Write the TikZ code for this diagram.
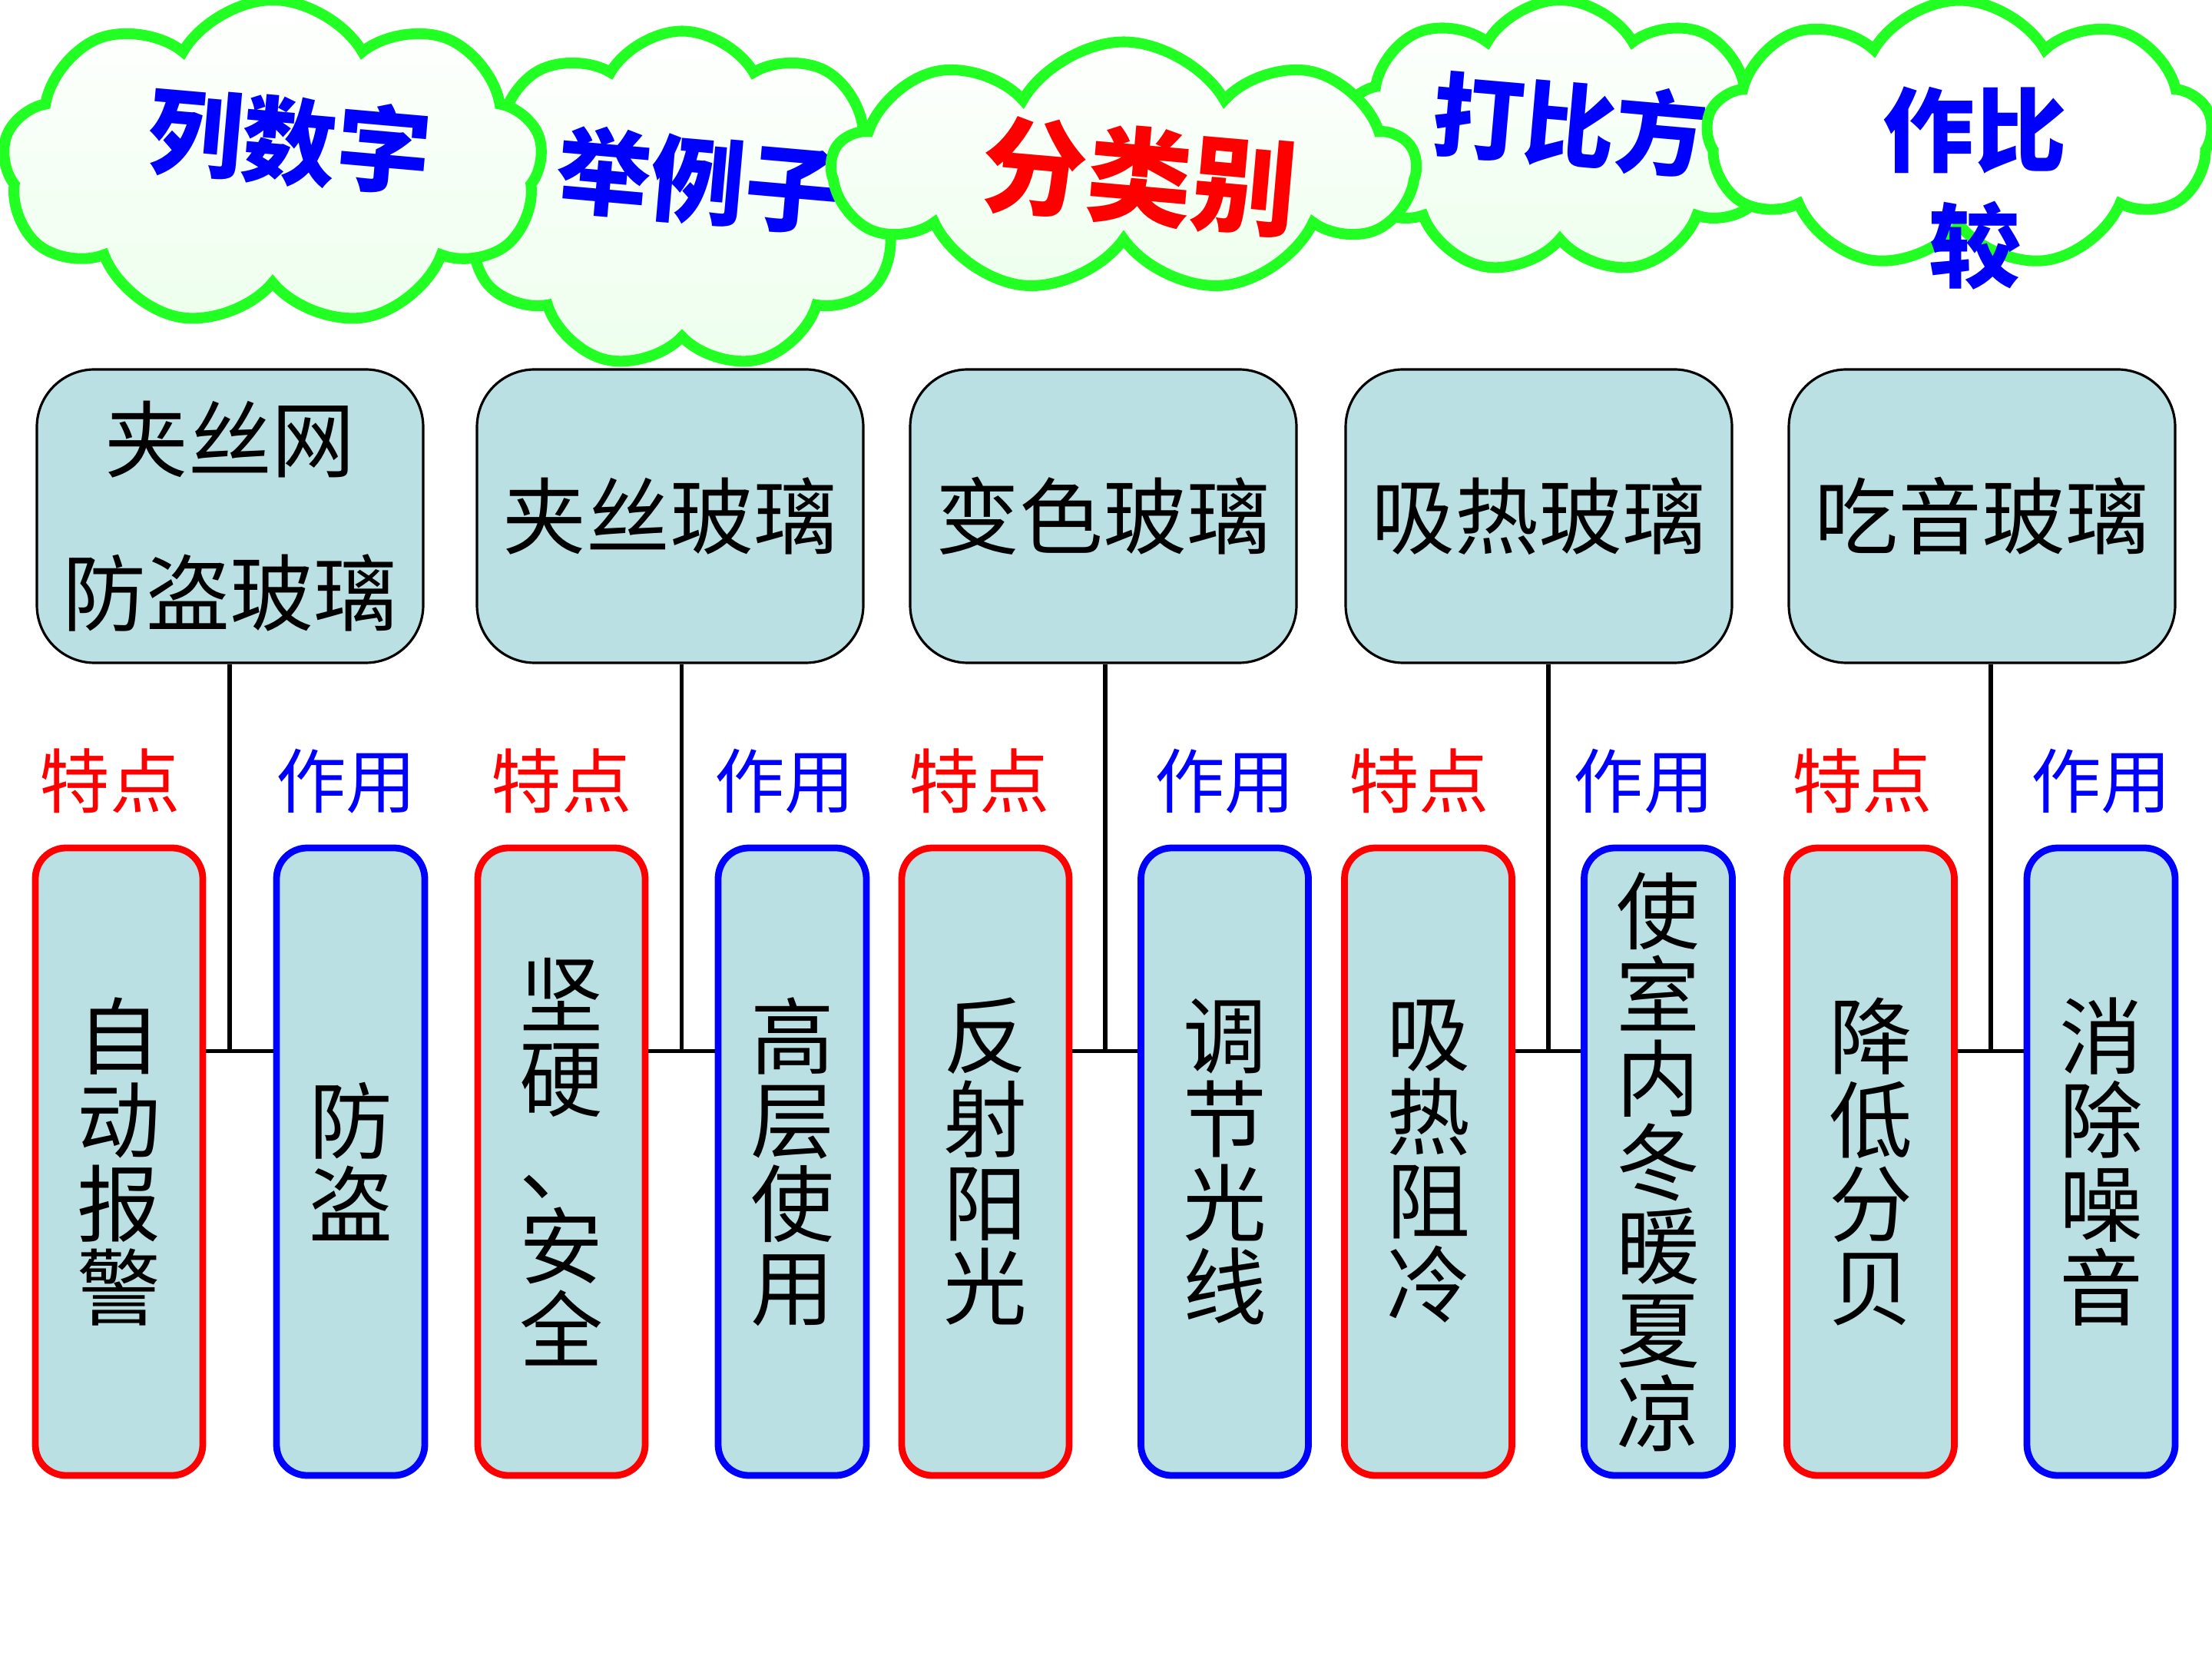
\documentclass[tikz,border=0pt]{standalone}
\usepackage{fontspec}
\setmainfont{Noto Sans CJK SC}
\usepackage{tikz}
\usetikzlibrary{positioning,calc,shapes.symbols}
\definecolor{boxfill}{HTML}{BBE0E3}
\definecolor{cloudgreen}{HTML}{22FF22}
\definecolor{featred}{HTML}{FF0000}
\definecolor{useblue}{HTML}{0000FF}

\begin{document}
\begin{tikzpicture}[
    glass/.style={draw=black,line width=0.9pt,fill=boxfill,rounded corners=0.75cm,
      minimum width=5.03cm,minimum height=3.82cm,align=center,
      font=\fontsize{31}{57}\selectfont},
    featbox/.style={draw=featred,line width=2.5pt,fill=boxfill,rounded corners=0.4cm,
      minimum width=2.18cm,minimum height=8.17cm,inner sep=0pt,align=center,
      font=\fontsize{31}{31}\selectfont},
    usebox/.style={featbox,draw=useblue,minimum width=1.93cm},
    feat/.style={text=featred,inner sep=0pt,font=\fontsize{26}{26}\selectfont},
    usetag/.style={feat,text=useblue},
    puff/.style={cloud,cloud puffs=9,cloud puff arc=120,aspect=1.6,draw=cloudgreen,
      line width=4pt,top color=white,bottom color=green!7,inner sep=0pt},
    word/.style={text=useblue,font=\fontsize{35}{43}\selectfont\bfseries,rotate=-5,align=center},
    wire/.style={line width=1.7pt}
  ]
    \useasboundingbox (0,0) rectangle (28.8,-21.6);

    % clouds, back to front
    \node[puff,minimum width=5.73cm,minimum height=3.58cm] (c4) at (20.31,-1.79) {};
    \node[word,font=\fontsize{34}{40}\selectfont\bfseries] (w4) at (20.44,-1.62) {打比方};
    \node[puff,minimum width=5.82cm,minimum height=4.41cm] (c2) at (8.88,-2.61) {};
    \node[word] (w2) at (9.09,-2.35) {举例子};
    \node[puff,minimum width=7.03cm,minimum height=4.26cm] (c1) at (3.55,-2.13) {};
    \node[word] (w1) at (3.77,-1.84) {列数字};
    \node[puff,minimum width=7.58cm,minimum height=3.27cm] (c3) at (14.63,-2.18) {};
    \node[word,text=featred,font=\fontsize{39}{44}\selectfont\bfseries] (w3) at (14.84,-2.30) {分类别};
    \node[puff,minimum width=6.58cm,minimum height=3.49cm,bottom color=white] (c5) at (25.51,-1.75) {};
    \node[word,rotate=5,font=\fontsize{34}{43}\selectfont\bfseries] (w5) at (25.71,-2.45) {作比\\较};

    % glass kinds
    \node[glass] (t1) at (2.995,-6.72) {夹丝网\\防盗玻璃};
    \node[glass] (t2) at (8.725,-6.72) {夹丝玻璃};
    \node[glass] (t3) at (14.365,-6.72) {变色玻璃};
    \node[glass] (t4) at (20.035,-6.72) {吸热玻璃};
    \node[glass] (t5) at (25.805,-6.72) {吃音玻璃};

    % features and uses
    \node[featbox] (f1) at (1.55,-15.125) {自\\动\\报\\警};
    \node[usebox] (u1) at (4.565,-15.125) {防\\盗};
    \node[featbox] (f2) at (7.31,-15.125) {坚\\硬\\、\\安\\全};
    \node[usebox] (u2) at (10.315,-15.125) {高\\层\\使\\用};
    \node[featbox] (f3) at (12.83,-15.125) {反\\射\\阳\\光};
    \node[featbox,draw=useblue] (u3) at (15.945,-15.125) {调\\节\\光\\线};
    \node[featbox] (f4) at (18.595,-15.125) {吸\\热\\阻\\冷};
    \node[usebox] (u4) at (21.59,-15.125) {使\\室\\内\\冬\\暖\\夏\\凉};
    \node[featbox] (f5) at (24.355,-15.125) {降\\低\\分\\贝};
    \node[usebox] (u5) at (27.355,-15.125) {消\\除\\噪\\音};

    \node[feat,above=0.4 of f1,xshift=-0.12cm] (lf1) {特点};
    \node[usetag,above=0.4 of u1,xshift=-0.06cm] (lu1) {作用};
    \node[feat,above=0.4 of f2] (lf2) {特点};
    \node[usetag,above=0.4 of u2,xshift=-0.1cm] (lu2) {作用};
    \node[feat,above=0.4 of f3,xshift=-0.08cm] (lf3) {特点};
    \node[usetag,above=0.4 of u3] (lu3) {作用};
    \node[feat,above=0.4 of f4,xshift=-0.12cm] (lf4) {特点};
    \node[usetag,above=0.4 of u4,xshift=-0.19cm] (lu4) {作用};
    \node[feat,above=0.4 of f5,xshift=-0.11cm] (lf5) {特点};
    \node[usetag,above=0.4 of u5] (lu5) {作用};

    % junctions
    \coordinate (j1) at ($(f1.east)!0.5!(u1.west)+(-0.13,1.44)$);
    \coordinate (j2) at ($(f2.east)!0.5!(u2.west)+(0,1.44)$);
    \coordinate (j3) at ($(f3.east)!0.5!(u3.west)+(0,1.44)$);
    \coordinate (j4) at ($(f4.east)!0.5!(u4.west)+(0,1.44)$);
    \coordinate (j5) at ($(f5.east)!0.5!(u5.west)+(0,1.44)$);

    \draw[wire] (t1.south -| j1) -- (j1);
    \draw[wire] (t2.south -| j2) -- (j2);
    \draw[wire] (t3.south -| j3) -- (j3);
    \draw[wire] (t4.south -| j4) -- (j4);
    \draw[wire] (t5.south -| j5) -- (j5);
    \draw[wire] (f1.east |- j1) -- (u1.west |- j1);
    \draw[wire] (f2.east |- j2) -- (u2.west |- j2);
    \draw[wire] (f3.east |- j3) -- (u3.west |- j3);
    \draw[wire] (f4.east |- j4) -- (u4.west |- j4);
    \draw[wire] (f5.east |- j5) -- (u5.west |- j5);
  \end{tikzpicture}
\end{document}
